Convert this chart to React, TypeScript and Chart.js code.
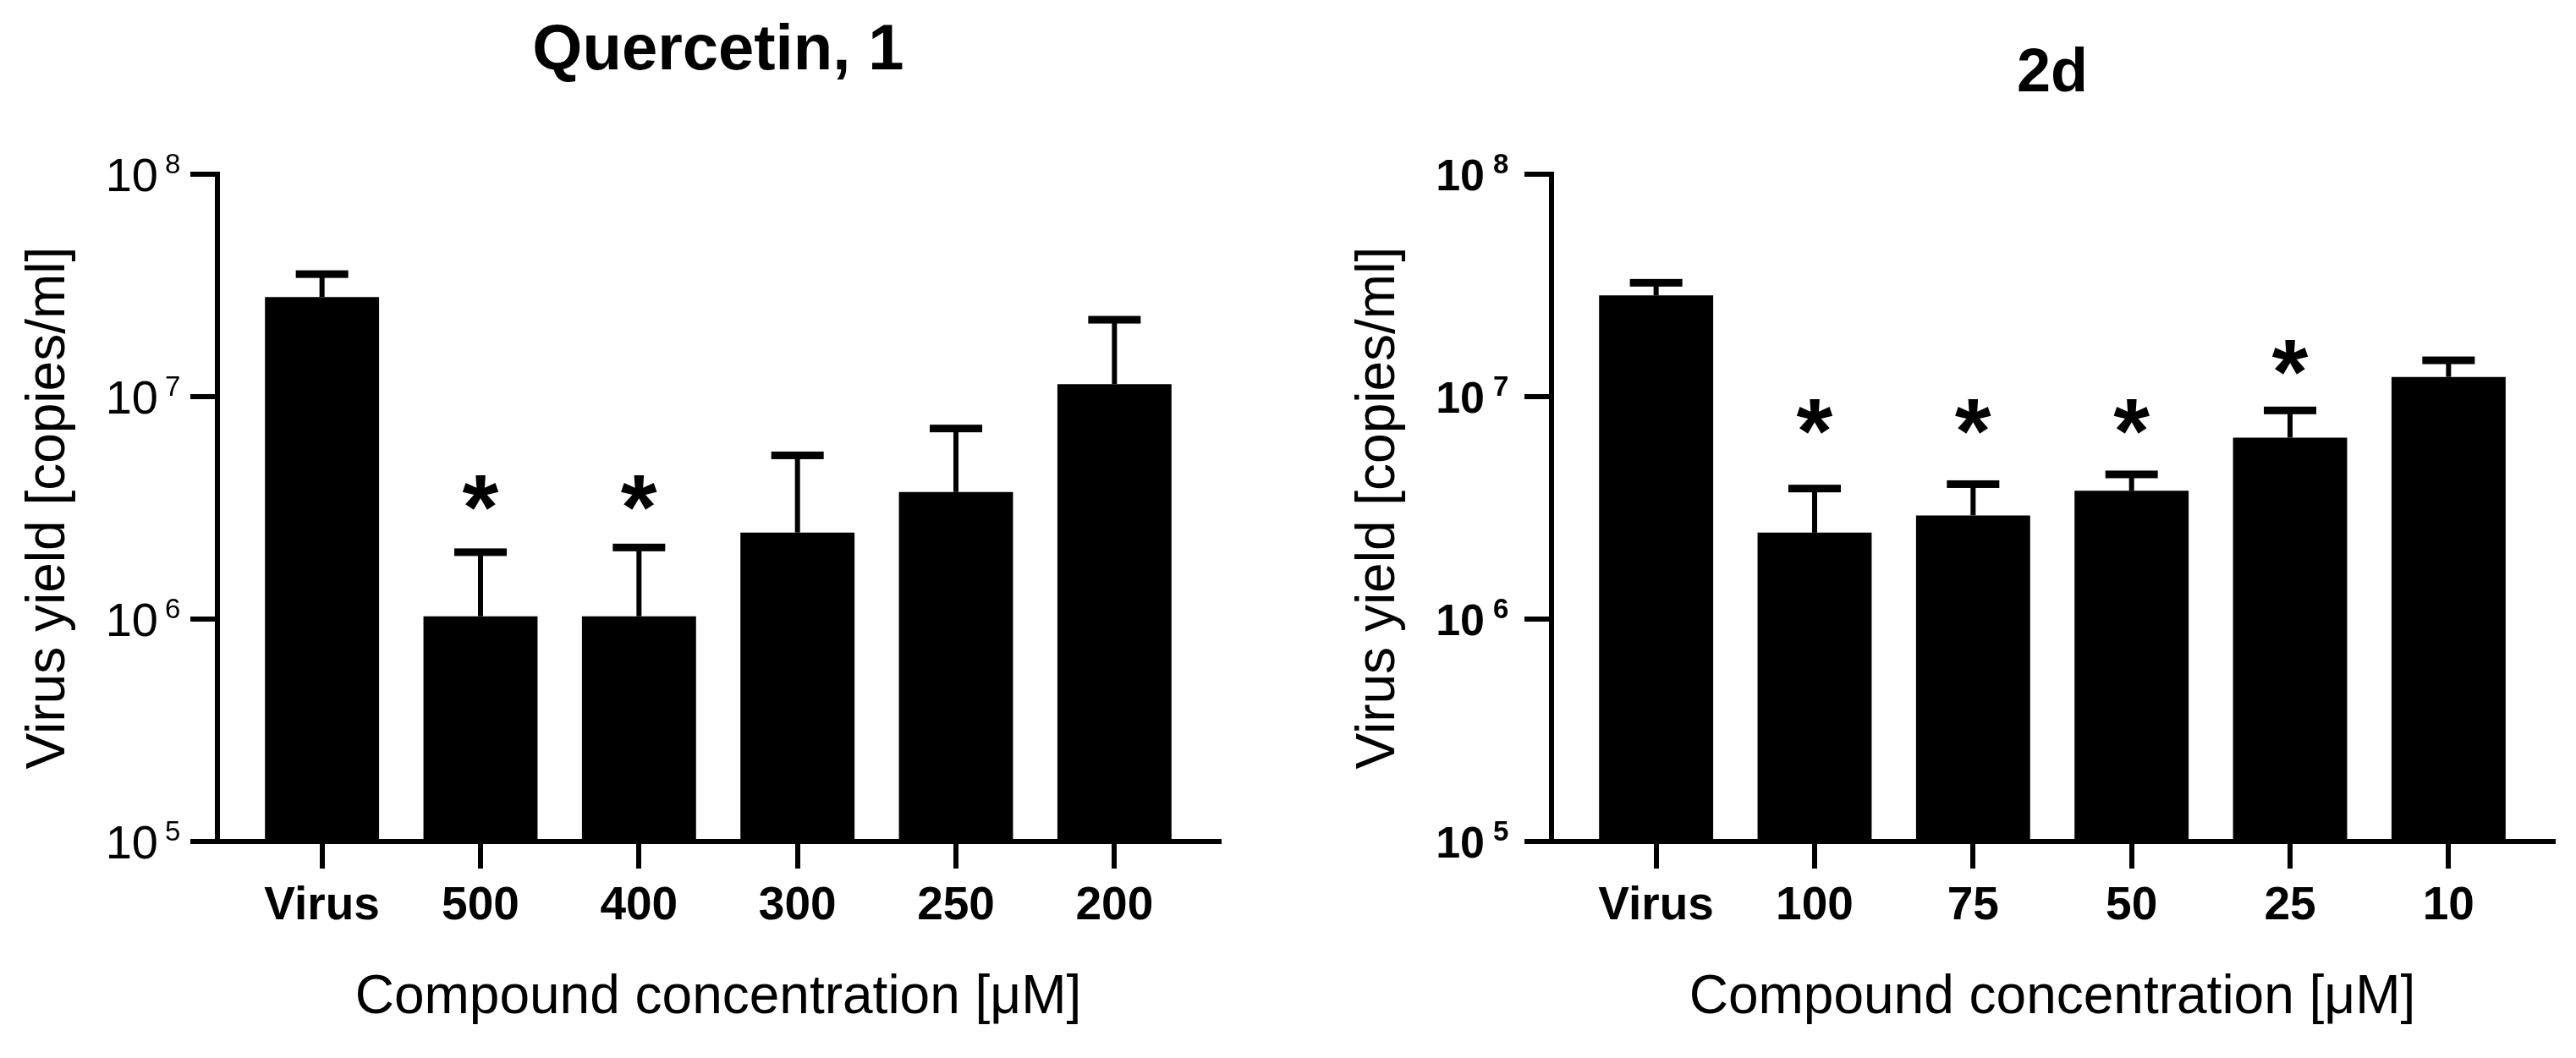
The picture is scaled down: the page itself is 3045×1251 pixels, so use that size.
import React, { useEffect, useRef } from 'react';
import { Chart, registerables } from 'chart.js';

Chart.register(...registerables);

const FONT = "'Liberation Sans', Arial, Helvetica, sans-serif";

// ---------- data ----------
const yTickValues = [1e5, 1e6, 1e7, 1e8];
const xAxisTitle = 'Compound concentration [μM]';
const yAxisTitle = 'Virus yield [copies/ml]';

const leftTitle = 'Quercetin, 1';
const leftCategories = ['Virus', '500', '400', '300', '250', '200'];
const leftMeans = [2.81e7, 1.03e6, 1.03e6, 2.45e6, 3.73e6, 1.14e7];
const leftSD = [7.5e6, 0.97e6, 1.07e6, 3.0e6, 3.47e6, 1.08e7];
const leftStars = [null, 3.72e6, 3.72e6, null, null, null];

const rightTitle = '2d';
const rightCategories = ['Virus', '100', '75', '50', '25', '10'];
const rightMeans = [2.86e7, 2.45e6, 2.93e6, 3.78e6, 6.56e6, 1.23e7];
const rightSD = [4.0e6, 1.42e6, 1.12e6, 0.7e6, 2.13e6, 2.3e6];
const rightStars = [null, 8.19e6, 8.19e6, 8.19e6, 1.51e7, null];

// ---------- layout ----------
const H = 1251;

type PanelCfg = {
  left: number;
  width: number;
  yAxisWidth: number;
  padRight: number;
  title: string;
  titleSize: number;
  titlePadTop: number;
  titlePadBottom: number;
  yTitlePadTop: number;
  tickBold: boolean;
  tickMain: number;
  tickSup: number;
  supOffset: number;
  supGap: number;
  supRaise: number;
  categories: string[];
  means: number[];
  sd: number[];
  stars: (number | null)[];
};

const panels: PanelCfg[] = [
  {
    left: 0,
    width: 1500,
    yAxisWidth: 257,
    padRight: 59,
    title: leftTitle,
    titleSize: 76,
    titlePadTop: 15,
    titlePadBottom: 100,
    yTitlePadTop: 20,
    tickBold: false,
    tickMain: 56,
    tickSup: 33,
    supOffset: 62,
    supGap: 8,
    supRaise: 13,
    categories: leftCategories,
    means: leftMeans,
    sd: leftSD,
    stars: leftStars,
  },
  {
    left: 1500,
    width: 1545,
    yAxisWidth: 334,
    padRight: 27,
    title: rightTitle,
    titleSize: 72,
    titlePadTop: 45,
    titlePadBottom: 75,
    yTitlePadTop: 92,
    tickBold: true,
    tickMain: 52,
    tickSup: 33,
    supOffset: 69,
    supGap: 10,
    supRaise: 13,
    categories: rightCategories,
    means: rightMeans,
    sd: rightSD,
    stars: rightStars,
  },
];

function makeAnnotPlugin(cfg: PanelCfg) {
  return {
    id: 'annot',
    afterDatasetsDraw(chart: any) {
      const { ctx } = chart;
      const x = chart.scales.x;
      const y = chart.scales.y;
      ctx.save();
      ctx.fillStyle = '#000';
      ctx.strokeStyle = '#000';
      cfg.means.forEach((m, i) => {
        const px = x.getPixelForValue(i);
        const top = y.getPixelForValue(m);
        const cap = y.getPixelForValue(m + cfg.sd[i]);
        ctx.lineWidth = 6;
        ctx.beginPath();
        ctx.moveTo(px, top);
        ctx.lineTo(px, cap);
        ctx.stroke();
        ctx.fillRect(px - 31, cap - 4.5, 62, 9);
        const s = cfg.stars[i];
        if (s != null) {
          ctx.font = `bold 110px ${FONT}`;
          ctx.textAlign = 'left';
          ctx.textBaseline = 'alphabetic';
          const mt = ctx.measureText('*');
          const L = mt.actualBoundingBoxLeft;
          const R = mt.actualBoundingBoxRight;
          const A = mt.actualBoundingBoxAscent;
          const D = mt.actualBoundingBoxDescent;
          const cy = y.getPixelForValue(s);
          ctx.fillText('*', px - (R - L) / 2, cy + (A - D) / 2);
        }
      });
      ctx.restore();
    },
    afterDraw(chart: any) {
      const { ctx, chartArea } = chart;
      const y = chart.scales.y;
      const w = cfg.tickBold ? 'bold' : 'normal';
      ctx.save();
      ctx.fillStyle = '#000';
      ctx.textBaseline = 'alphabetic';
      yTickValues.forEach((v) => {
        const ty = y.getPixelForValue(v);
        const exp = Math.round(Math.log10(v));
        const supLeft = chartArea.left - cfg.supOffset;
        ctx.font = `${w} ${cfg.tickMain}px ${FONT}`;
        ctx.textAlign = 'right';
        ctx.fillText('10', supLeft - cfg.supGap, ty + (cfg.tickMain * 0.716) / 2);
        ctx.font = `${w} ${cfg.tickSup}px ${FONT}`;
        ctx.textAlign = 'left';
        ctx.fillText(String(exp), supLeft, ty - cfg.supRaise + (cfg.tickSup * 0.716) / 2);
      });
      ctx.restore();
    },
  };
}

function Panel({ cfg }: { cfg: PanelCfg }) {
  const ref = useRef<HTMLCanvasElement>(null);
  useEffect(() => {
    if (!ref.current) return;
    const idx = cfg.categories.map((_, i) => i);
    const chart = new Chart(ref.current, {
      type: 'bar',
      data: {
        datasets: [
          {
            data: cfg.means.map((v, i) => ({ x: idx[i], y: v })),
            backgroundColor: '#000',
            borderWidth: 0,
            barPercentage: 0.72,
            categoryPercentage: 1,
          } as any,
        ],
      },
      options: {
        animation: false,
        responsive: false,
        events: [],
        layout: { padding: { left: 0, right: cfg.padRight, top: 0, bottom: 0 } },
        plugins: {
          legend: { display: false },
          tooltip: { enabled: false },
          title: {
            display: true,
            text: cfg.title,
            fullSize: false,
            color: '#000',
            font: { family: FONT, size: cfg.titleSize, weight: 'bold', lineHeight: 1.2 },
            padding: { top: cfg.titlePadTop, bottom: cfg.titlePadBottom },
          },
        },
        scales: {
          x: {
            type: 'linear',
            offset: false,
            min: -0.66,
            max: cfg.categories.length - 1 + 0.66,
            afterBuildTicks: (scale: any) => {
              scale.ticks = idx.map((v) => ({ value: v }));
            },
            afterFit: (scale: any) => {
              scale.height = H - 995;
            },
            ticks: {
              autoSkip: false,
              maxRotation: 0,
              padding: 12,
              color: '#000',
              font: { family: FONT, size: 55, weight: 'bold', lineHeight: 1.2 },
              callback: (value: any) => cfg.categories[Math.round(Number(value))] ?? '',
            },
            grid: {
              display: true,
              offset: false,
              drawOnChartArea: false,
              drawTicks: true,
              tickLength: 32,
              lineWidth: 6,
              color: '#000',
            },
            border: { display: true, width: 6, color: '#000' },
            title: {
              display: true,
              text: xAxisTitle,
              color: '#000',
              font: { family: FONT, size: 64, weight: 'normal', lineHeight: 1.2 },
              padding: { top: 0, bottom: 32 },
            },
          },
          y: {
            type: 'logarithmic',
            min: 1e5,
            max: 1e8,
            afterBuildTicks: (scale: any) => {
              scale.ticks = yTickValues.map((v) => ({ value: v }));
            },
            afterFit: (scale: any) => {
              scale.width = cfg.yAxisWidth;
            },
            ticks: { display: false },
            grid: {
              display: true,
              drawOnChartArea: false,
              drawTicks: true,
              tickLength: 32,
              lineWidth: 6,
              color: '#000',
            },
            border: { display: true, width: 6, color: '#000' },
            title: {
              display: true,
              text: yAxisTitle,
              color: '#000',
              font: { family: FONT, size: 64, weight: 'normal', lineHeight: 1.2 },
              padding: { top: cfg.yTitlePadTop, bottom: 0 },
            },
          },
        },
      } as any,
      plugins: [makeAnnotPlugin(cfg) as any],
    });
    return () => chart.destroy();
  }, [cfg]);
  return (
    <canvas
      ref={ref}
      width={cfg.width}
      height={H}
      style={{ position: 'absolute', left: cfg.left, top: 0, width: cfg.width, height: H }}
    />
  );
}

export default function App() {
  useEffect(() => {
    document.body.style.margin = '0';
  }, []);
  return (
    <div
      style={{
        position: 'fixed',
        left: 0,
        top: 0,
        width: 3045,
        height: H,
        background: '#fff',
        overflow: 'hidden',
      }}
    >
      {panels.map((p, i) => (
        <Panel key={i} cfg={p} />
      ))}
    </div>
  );
}
